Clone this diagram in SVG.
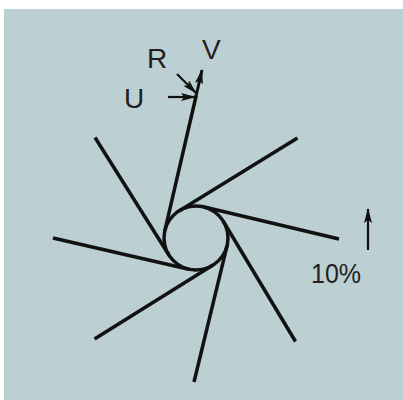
<svg xmlns="http://www.w3.org/2000/svg" width="403" height="400" viewBox="0 0 403 400">
<defs>
<style>
.blade{stroke:#111;stroke-width:3.5;fill:none;stroke-linecap:butt}
.arr{stroke:#111;stroke-width:2.2;fill:none}
.lbl{font-family:"Liberation Sans",Arial,sans-serif;font-size:28px;fill:#231f20}
</style>
<marker id="ah" viewBox="0 0 15 8" refX="14" refY="4" markerWidth="15" markerHeight="8" markerUnits="userSpaceOnUse" orient="auto">
<path d="M0,0 L15,4 L0,8 L3,4 z" fill="#111"/>
</marker>
</defs>
<rect x="0" y="0" width="403" height="400" fill="#ffffff"/>
<rect x="4" y="9" width="399" height="391" fill="#bccfd3"/>
<g id="hub"><circle cx="196" cy="238" r="32" class="blade"/></g>
<g id="blades">
<line class="blade" x1="203.2" y1="206.8" x2="339" y2="239"/>
<line class="blade" x1="223.1" y1="221" x2="295.5" y2="341.5"/>
<line class="blade" x1="227.2" y1="245.2" x2="194" y2="382"/>
<line class="blade" x1="213" y1="265.1" x2="94.5" y2="339"/>
<line class="blade" x1="188.8" y1="269.2" x2="53" y2="238"/>
<line class="blade" x1="168.9" y1="255" x2="95" y2="137.5"/>
<line class="blade" x1="164.8" y1="230.8" x2="196.3" y2="95"/>
<line class="blade" x1="179" y1="210.9" x2="297.5" y2="138"/>
</g>
<g id="connectors">
<line class="arr" x1="196.3" y1="95" x2="202" y2="70" marker-end="url(#ah)" style="stroke-width:3"/>
<line class="arr" x1="168" y1="97" x2="195" y2="97" marker-end="url(#ah)"/>
<line class="arr" x1="177" y1="74" x2="196" y2="93" marker-end="url(#ah)"/>
<line class="arr" x1="368" y1="250" x2="368" y2="209" marker-end="url(#ah)"/>
</g>
<g id="labels">
<text class="lbl" x="202" y="59">V</text>
<text class="lbl" x="147" y="68">R</text>
<text class="lbl" x="124" y="108">U</text>
<text class="lbl" x="311" y="283" textLength="50" lengthAdjust="spacingAndGlyphs">10%</text>
</g>
</svg>
